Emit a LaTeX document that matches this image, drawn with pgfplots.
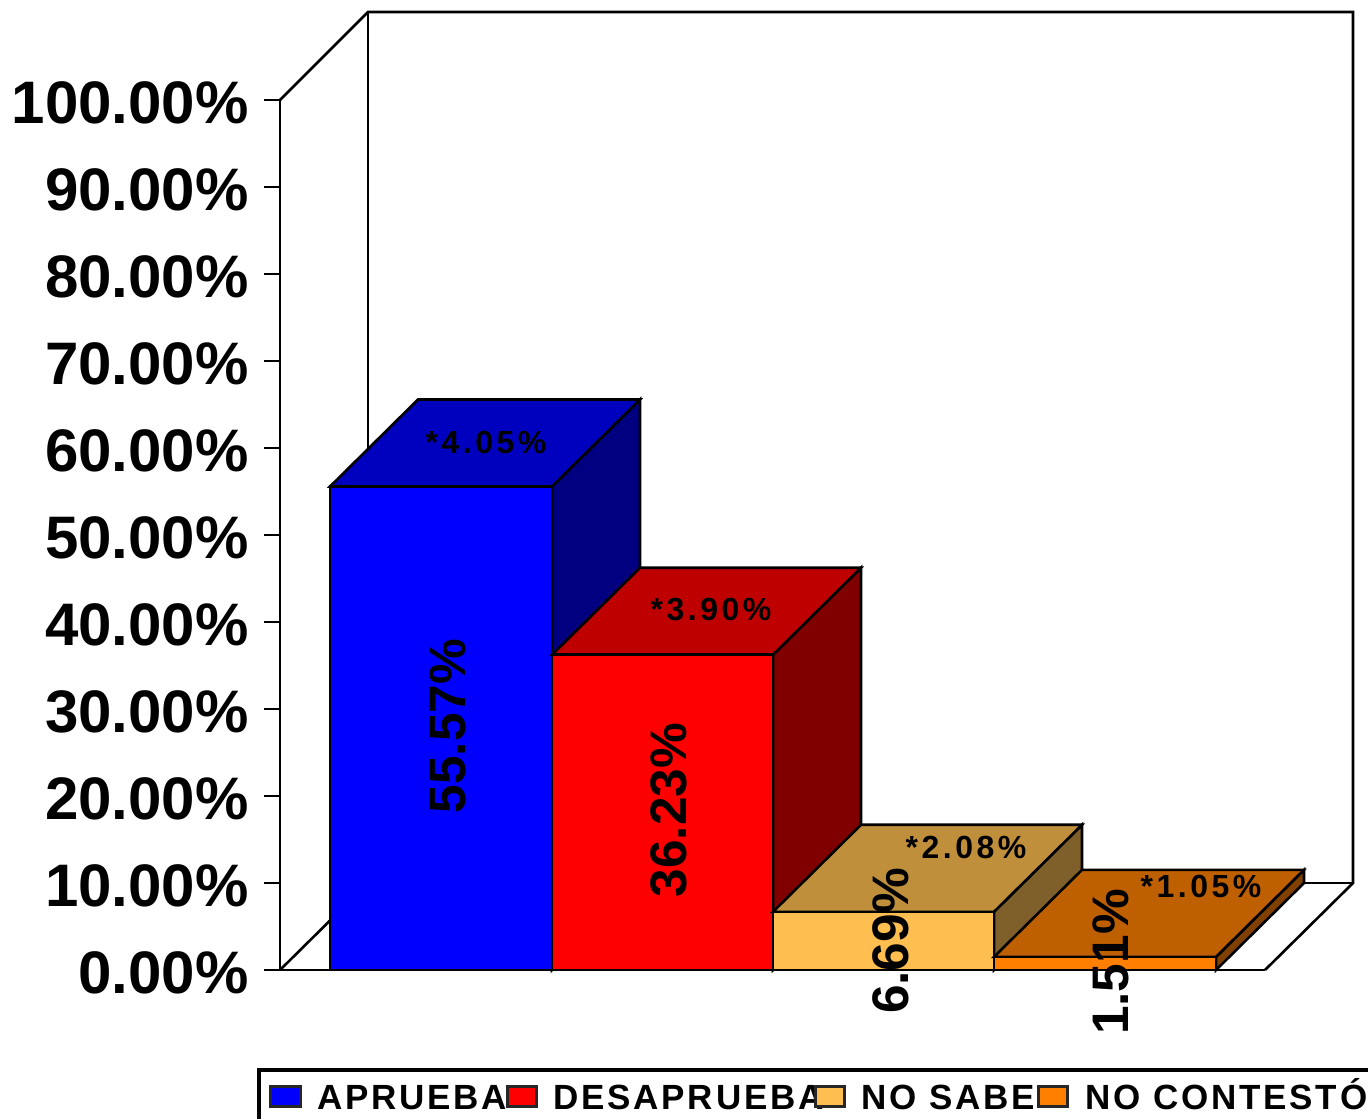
\documentclass[border=0pt]{standalone}
\usepackage{fontspec}
\setmainfont{Liberation Sans}
\newfontfamily\spaced[LetterSpace=11]{Liberation Sans}
\newfontfamily\spacedleg[LetterSpace=8]{Liberation Sans}
\usepackage{pgfplots}
\pgfplotsset{compat=1.18}
\definecolor{cBlue}{HTML}{0000FF}\definecolor{cBlueT}{HTML}{0000BF}\definecolor{cBlueS}{HTML}{000080}
\definecolor{cRed}{HTML}{FF0000}\definecolor{cRedT}{HTML}{BF0000}\definecolor{cRedS}{HTML}{800000}
\definecolor{cSand}{HTML}{FFBF50}\definecolor{cSandT}{HTML}{BF8F3C}\definecolor{cSandS}{HTML}{80602A}
\definecolor{cOr}{HTML}{FF8000}\definecolor{cOrT}{HTML}{BF6000}\definecolor{cOrS}{HTML}{804000}
\begin{document}
\begin{tikzpicture}
\useasboundingbox (0,0) rectangle (684pt,559.5pt);
\begin{scope}[x=0.5pt,y=-0.5pt,shift={(0,559.5pt)},line width=1.3pt]
\draw (280,100)--(368,12)--(1353,12)--(1353,883)--(1265,970);
\draw (368,12)--(368,883)--(1353,883);
\draw (280,970)--(368,883);
\end{scope}
\begin{axis}[
  at={(140pt,74.5pt)},anchor=south west,scale only axis,
  width=492.5pt,height=435pt,
  xmin=280,xmax=1265,ymin=0,ymax=100,clip=false,
  axis x line=bottom,axis y line=left,axis line style={-,line width=1.3pt},
  xtick=\empty,
  ytick={0,10,...,100},
  tick style={black,line width=0.8pt},
  major tick length=8pt,tick align=outside,
  yticklabel={\pgfmathprintnumber[fixed,fixed zerofill,precision=2,assume math mode=true]{\tick}\%},
  yticklabel style={font=\fontsize{30}{32}\selectfont\bfseries,anchor=east,inner sep=0pt,xshift=-7.5pt,yshift=-1.2pt},
  every axis plot/.append style={line width=1.3pt,draw=black,no markers},
]
% APRUEBA 55.57
\addplot[fill=cBlueS] coordinates {(552,55.57)(640,65.57)(640,10)(552,0)} --cycle;
\addplot[fill=cBlueT] coordinates {(330,55.57)(552,55.57)(640,65.57)(418,65.57)} --cycle;
\addplot[fill=cBlue] coordinates {(330,0)(330,55.57)(552,55.57)(552,0)} --cycle;
% DESAPRUEBA 36.23
\addplot[fill=cRedS] coordinates {(773,36.23)(861,46.23)(861,10)(773,0)} --cycle;
\addplot[fill=cRedT] coordinates {(552,36.23)(773,36.23)(861,46.23)(640,46.23)} --cycle;
\addplot[fill=cRed] coordinates {(552,0)(552,36.23)(773,36.23)(773,0)} --cycle;
% NO SABE 6.69
\addplot[fill=cSandS] coordinates {(994,6.69)(1082,16.69)(1082,10)(994,0)} --cycle;
\addplot[fill=cSandT] coordinates {(773,6.69)(994,6.69)(1082,16.69)(861,16.69)} --cycle;
\addplot[fill=cSand] coordinates {(773,0)(773,6.69)(994,6.69)(994,0)} --cycle;
% NO CONTESTO 1.51
\addplot[fill=cOrS] coordinates {(1216,1.51)(1304,11.51)(1304,10)(1216,0)} --cycle;
\addplot[fill=cOrT] coordinates {(994,1.51)(1216,1.51)(1304,11.51)(1082,11.51)} --cycle;
\addplot[fill=cOr] coordinates {(994,0)(994,1.51)(1216,1.51)(1216,0)} --cycle;
\end{axis}
\begin{scope}[x=0.5pt,y=-0.5pt,shift={(0,559.5pt)}]
\tikzset{v/.style={rotate=90,font=\fontsize{25.7}{26}\selectfont\bfseries,inner sep=0pt},
 t/.style={font=\fontsize{16}{17}\spaced\bfseries,inner sep=0pt},
 lg/.style={anchor=base west,font=\fontsize{17.5}{20}\spacedleg\bfseries,inner sep=0pt},
 sw/.style={draw=black!85,line width=1.5pt}}
\node[v] at (448,726) {55.57\%};
\node[v] at (669,810) {36.23\%};
\node[v] at (891,941) {6.69\%};
\node[v] at (1111,962) {1.51\%};
\node[t] at (486,442) {*4.05\%};
\node[t] at (711,610) {*3.90\%};
\node[t] at (966,847) {*2.08\%};
\node[t] at (1201,886) {*1.05\%};
\fill[white] (1060,1032) rectangle (1160,1062);
\draw[line width=1.7pt] (259,1119)--(259,1070)--(1368,1070);
\node[lg] at (317,1109) {APRUEBA};
\node[lg] at (553,1109) {DESAPRUEBA};
\node[lg] at (861,1109) {NO SABE};
\node[lg] at (1085,1109) {NO CONTESTÓ};
\filldraw[fill=cBlue,sw] (270,1086) rectangle (300,1106);
\filldraw[fill=cRed,sw] (507,1086) rectangle (536,1106);
\filldraw[fill=cSand,sw] (815,1086) rectangle (844,1106);
\filldraw[fill=cOr,sw] (1038,1086) rectangle (1067,1106);
\end{scope}
\end{tikzpicture}
\end{document}
